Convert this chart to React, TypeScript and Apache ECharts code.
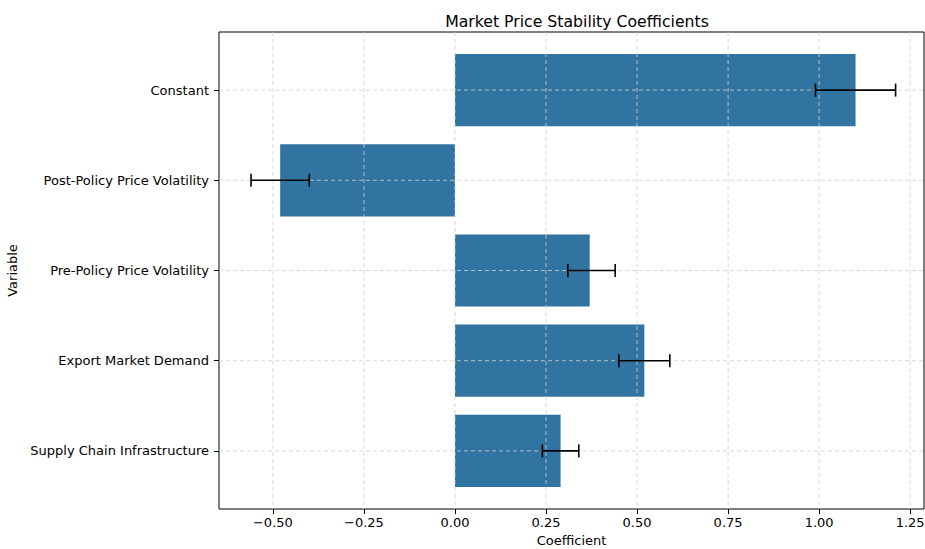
import React, { useEffect, useRef } from "react";
import * as echarts from "echarts";

const categories = [
  "Constant",
  "Post-Policy Price Volatility",
  "Pre-Policy Price Volatility",
  "Export Market Demand",
  "Supply Chain Infrastructure",
];
const coefficients = [1.1, -0.48, 0.37, 0.52, 0.29];
const errLow = [0.99, -0.56, 0.31, 0.45, 0.24];
const errHigh = [1.21, -0.4, 0.44, 0.59, 0.34];
const xTicks = [-0.5, -0.25, 0, 0.25, 0.5, 0.75, 1.0, 1.25];
const yTicks = [0, 1, 2, 3, 4];

const FONT = "DejaVu Sans";
const GRID_COLOR = "#cfcfcf";

export default function App() {
  const ref = useRef<HTMLDivElement>(null);
  useEffect(() => {
    if (!ref.current) return;
    const chart = echarts.init(ref.current, undefined, { renderer: "svg" });
    const barData = categories.map((_, i) => [coefficients[i], i]);
    const errData = categories.map((_, i) => [errLow[i], errHigh[i], i]);
    chart.setOption({
      animation: false,
      textStyle: { fontFamily: FONT },
      title: {
        text: "Market Price Stability Coefficients",
        left: 572,
        top: 8,
        textAlign: "center",
        textStyle: { fontFamily: FONT, fontSize: 15.7, fontWeight: "normal", color: "#000" },
      },
      grid: {
        left: 219,
        right: 1,
        top: 32,
        bottom: 40,
        outerBoundsMode: "none",
        containLabel: false,
        show: true,
        borderColor: "#000",
        borderWidth: 1,
        backgroundColor: "transparent",
      },
      xAxis: {
        type: "value",
        min: -0.648,
        max: 1.288,
        name: "Coefficient",
        nameLocation: "middle",
        nameGap: 25,
        nameTextStyle: { fontFamily: FONT, fontSize: 13, color: "#000", overflow: "none" },
        axisLine: { show: false, onZero: false },
        axisTick: { show: true, length: 5, lineStyle: { color: "#000" }, customValues: xTicks },
        axisLabel: {
          customValues: xTicks,
          fontFamily: FONT,
          fontSize: 13,
          color: "#000",
          margin: 7,
          hideOverlap: false,
          overflow: "none",
          formatter: (v: number) => (v < 0 ? "\u2212" + Math.abs(v).toFixed(2) : v.toFixed(2)),
        },
        splitLine: { show: false },
      },
      yAxis: {
        type: "value",
        min: -0.644,
        max: 4.644,
        inverse: true,
        name: "Variable",
        nameLocation: "middle",
        nameGap: 195,
        nameRotate: 90,
        nameTextStyle: { fontFamily: FONT, fontSize: 13, color: "#000", overflow: "none" },
        axisLine: { show: false, onZero: false },
        axisTick: { show: true, length: 5, lineStyle: { color: "#000" }, customValues: yTicks },
        axisLabel: {
          customValues: yTicks,
          fontFamily: FONT,
          fontSize: 13,
          color: "#000",
          margin: 10,
          overflow: "none",
          formatter: (v: number) => categories[Math.round(v)] ?? "",
        },
        splitLine: { show: false },
      },
      series: [
        {
          type: "custom",
          data: barData,
          encode: { x: 0, y: 1 },
          z: 2,
          renderItem: (params: any, api: any) => {
            const i = api.value(1);
            const p0 = api.coord([0, i]);
            const p1 = api.coord([api.value(0), i]);
            const h = Math.abs(api.size([0, 1])[1]) * 0.8;
            const x = Math.min(p0[0], p1[0]);
            const w = Math.abs(p1[0] - p0[0]);
            return {
              type: "rect",
              shape: { x, y: p0[1] - h / 2, width: w, height: h },
              style: { fill: "#3274a1" },
            };
          },
        },
        {
          type: "custom",
          data: [[0]],
          encode: { x: 0 },
          z: 3,
          silent: true,
          renderItem: (params: any, api: any) => {
            const cs = params.coordSys;
            const style = { stroke: GRID_COLOR, lineWidth: 0.8, lineDash: [4, 3] };
            const children: any[] = [];
            xTicks.forEach((t) => {
              const x = api.coord([t, 0])[0];
              children.push({ type: "line", shape: { x1: x, y1: cs.y, x2: x, y2: cs.y + cs.height }, style });
            });
            yTicks.forEach((t) => {
              const y = api.coord([0, t])[1];
              children.push({ type: "line", shape: { x1: cs.x, y1: y, x2: cs.x + cs.width, y2: y }, style });
            });
            return { type: "group", children };
          },
        },
        {
          type: "custom",
          data: errData,
          encode: { x: [0, 1], y: 2 },
          z: 5,
          renderItem: (params: any, api: any) => {
            const ci = api.value(2);
            const p1 = api.coord([api.value(0), ci]);
            const p2 = api.coord([api.value(1), ci]);
            const h = 6.5;
            const style = { stroke: "#000", lineWidth: 1.6 };
            return {
              type: "group",
              children: [
                { type: "line", shape: { x1: p1[0], y1: p1[1], x2: p2[0], y2: p2[1] }, style },
                { type: "line", shape: { x1: p1[0], y1: p1[1] - h, x2: p1[0], y2: p1[1] + h }, style },
                { type: "line", shape: { x1: p2[0], y1: p2[1] - h, x2: p2[0], y2: p2[1] + h }, style },
              ],
            };
          },
        },
      ],
    });
    return () => chart.dispose();
  }, []);
  return (
    <div
      ref={ref}
      style={{ position: "absolute", left: 0, top: 0, width: 925, height: 549, overflow: "hidden" }}
    />
  );
}
